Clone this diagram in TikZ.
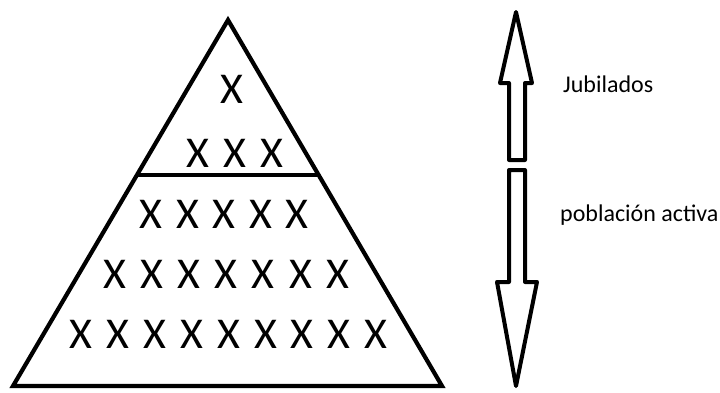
\documentclass[tikz,border=0pt]{standalone}
\usepackage{fontspec}
\setmainfont{Carlito}
\tikzset{
  outline/.style={draw=black, line width=4.2pt, line join=miter},
  arrowshape/.style={draw=black, fill=white, line width=4pt, line join=round},
  xmark/.style={inner sep=0pt, anchor=base, font=\fontsize{44}{44}\selectfont},
  label/.style={inner sep=0pt, anchor=base west, font=\fontsize{24}{24}\selectfont}
}
\begin{document}
\begin{tikzpicture}[x=1pt,y=-1pt]
\useasboundingbox (0,0) rectangle (720,392);
% pyramid
\coordinate (apex) at (228,20);
\coordinate (bl) at (13,386);
\coordinate (br) at (442,386);
\coordinate (dl) at (137,175);
\coordinate (dr) at (318.6,175);
\draw[outline] (apex) -- (br) -- (bl) -- cycle;
\draw[outline] (dl) -- (dr);
% X marks
\node[xmark] (r1x1) at (232,103) {X};
\foreach \i in {0,...,2} \node[xmark] (r2x\i) at (198+36.9*\i,167) {X};
\foreach \i in {0,...,4} \node[xmark] (r3x\i) at (151+36.6*\i,228) {X};
\foreach \i in {0,...,6} \node[xmark] (r4x\i) at (115+37.1*\i,288) {X};
\foreach \i in {0,...,8} \node[xmark] (r5x\i) at (81+36.9*\i,348) {X};
% arrows
\draw[arrowshape] (516,12) -- (532,83) -- (525,83) -- (525,160) -- (509,160) -- (509,83) -- (500,83) -- cycle;
\draw[arrowshape] (509,170) -- (525,170) -- (525,282) -- (537,282) -- (516,386) -- (497,282) -- (509,282) -- cycle;
% labels
\node[label] (jub) at (563,92) {Jubilados};
\node[label] (pob) at (560,221) {población activa};
\end{tikzpicture}
\end{document}
